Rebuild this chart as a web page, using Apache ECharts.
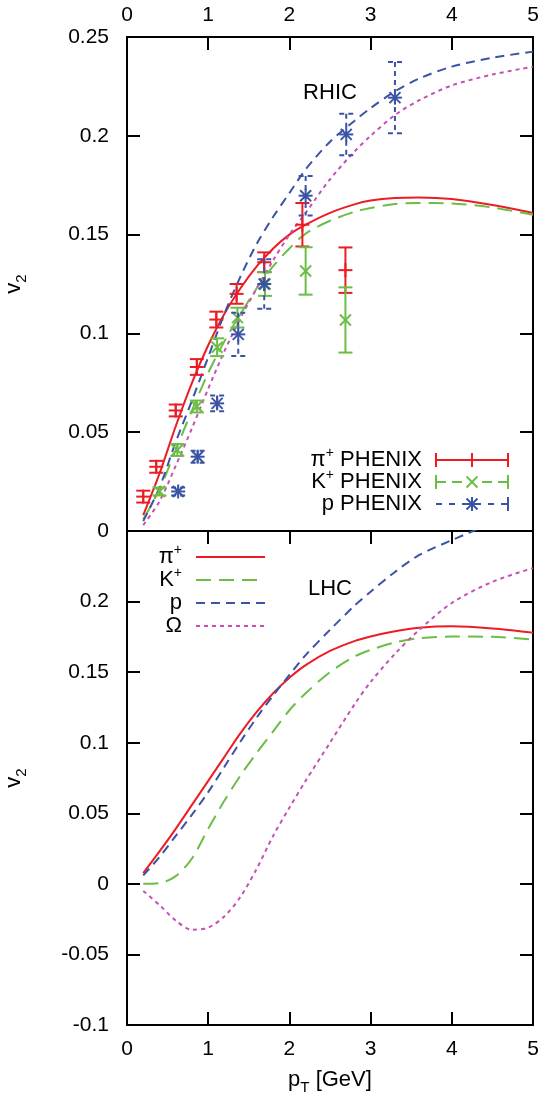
<!DOCTYPE html>
<html>
<head>
<meta charset="utf-8">
<script src="https://cdn.jsdelivr.net/npm/echarts@6/dist/echarts.min.js"></script>
<style>
  html, body { margin: 0; padding: 0; background: #fff; }
  #chart { width: 543px; height: 1097px; }
</style>
</head>
<body>
<div id="chart"></div>
<script>
// Elliptic flow v2 versus transverse momentum: RHIC (top) and LHC (bottom) model curves,
// with PHENIX measurements in the RHIC panel.

const xTickValues = [0, 1, 2, 3, 4, 5];

// common pT grid of the model curves [GeV]
const ptGrid = [0.2, 0.4, 0.6, 0.8, 1.0, 1.2, 1.4, 1.6, 1.8, 2.0, 2.2, 2.5, 2.8, 3.0, 3.3, 3.6, 4.0, 4.5, 5.0];

// RHIC model curves
const rhicPion  = [0.008, 0.029, 0.053, 0.075, 0.094, 0.110, 0.123, 0.134, 0.143, 0.150, 0.155, 0.161, 0.1653, 0.1672, 0.1685, 0.1688, 0.168, 0.165, 0.161];
const rhicKaon  = [0.006, 0.021, 0.041, 0.061, 0.080, 0.096, 0.110, 0.123, 0.134, 0.143, 0.1505, 0.157, 0.1615, 0.1635, 0.1655, 0.166, 0.1658, 0.1637, 0.160];
const rhicProton = [0.005, 0.022, 0.045, 0.066, 0.088, 0.110, 0.129, 0.1455, 0.159, 0.171, 0.183, 0.197, 0.2075, 0.214, 0.2225, 0.229, 0.235, 0.2395, 0.2426];
const rhicOmega = [0.003, 0.015, 0.033, 0.052, 0.072, 0.091, 0.108, 0.123, 0.137, 0.150, 0.161, 0.178, 0.192, 0.200, 0.2105, 0.218, 0.2255, 0.231, 0.235];

// LHC model curves
const lhcPion   = [0.0076, 0.023, 0.039, 0.056, 0.073, 0.090, 0.107, 0.122, 0.135, 0.146, 0.155, 0.165, 0.172, 0.1753, 0.179, 0.1815, 0.1825, 0.181, 0.178];
const lhcKaon   = [0.0, 0.0005, 0.0055, 0.018, 0.039, 0.059, 0.077, 0.093, 0.108, 0.123, 0.135, 0.150, 0.161, 0.1658, 0.171, 0.1741, 0.1752, 0.175, 0.173];
const lhcProton = [0.006, 0.019, 0.034, 0.049, 0.065, 0.083, 0.101, 0.118, 0.1335, 0.148, 0.162, 0.180, 0.197, 0.207, 0.221, 0.233, 0.2435, 0.2555, 0.265];
const lhcOmega  = [-0.005, -0.015, -0.026, -0.0325, -0.031, -0.023, -0.009, 0.011, 0.034, 0.054, 0.073, 0.100, 0.127, 0.143, 0.163, 0.180, 0.199, 0.214, 0.2237];

// PHENIX data: pT, v2, error
const phenixPionPt  = [0.2, 0.36, 0.6, 0.86, 1.1, 1.35, 1.69, 2.16, 2.69];
const phenixPionV2  = [0.0174, 0.0325, 0.061, 0.083, 0.107, 0.120, 0.136, 0.155, 0.132];
const phenixPionErr = [0.003, 0.003, 0.003, 0.004, 0.004, 0.005, 0.005, 0.011, 0.0115];

const phenixKaonPt  = [0.4, 0.62, 0.86, 1.11, 1.36, 1.70, 2.20, 2.69];
const phenixKaonV2  = [0.020, 0.041, 0.063, 0.093, 0.108, 0.125, 0.1316, 0.1068];
const phenixKaonErr = [0.002, 0.003, 0.003, 0.0045, 0.005, 0.006, 0.012, 0.0165];

const phenixProtonPt  = [0.63, 0.87, 1.11, 1.37, 1.69, 2.20, 2.70, 3.30];
const phenixProtonV2  = [0.020, 0.0376, 0.0646, 0.0995, 0.125, 0.1697, 0.2007, 0.2193];
const phenixProtonErr = [0.002, 0.003, 0.004, 0.011, 0.0125, 0.010, 0.0105, 0.018];

const RED = '#ec1c24';
const GREEN = '#6cbd45';
const BLUE = '#3a53a4';
const MAGENTA = '#c650b4';
const FONT = 'Liberation Sans';

const zip = (xs, ys) => xs.map((x, i) => [x, ys[i]]);
const zip3 = (xs, ys, es) => xs.map((x, i) => [x, ys[i], es[i]]);

const fmtTick = v => String(Math.round(v * 100) / 100);

const tickStyle = { inside: true, length: 13, lineStyle: { color: '#000', width: 2 } };
const lineStyleAxis = { show: true, onZero: false, lineStyle: { color: '#000', width: 2 } };
const labelStyle = { color: '#000', fontFamily: FONT, fontSize: 21 };

// small marker glyphs drawn around a centre point
function markerLines(kind, cx, cy, style) {
  const r = 7, d = 5.5;
  const seg = (x1, y1, x2, y2) => ({ type: 'line', shape: { x1, y1, x2, y2 }, style });
  const plus = [seg(cx - r, cy, cx + r, cy), seg(cx, cy - r, cx, cy + r)];
  const cross = [seg(cx - d, cy - d, cx + d, cy + d), seg(cx - d, cy + d, cx + d, cy - d)];
  if (kind === 'plus') return plus;
  if (kind === 'cross') return cross;
  return plus.concat(cross);
}

function errorBarRenderer(kind, color, dashed) {
  return function (params, api) {
    const x = api.value(0), y = api.value(1), e = api.value(2);
    const c = api.coord([x, y]);
    const hi = api.coord([x, y + e]);
    const lo = api.coord([x, y - e]);
    const barStyle = { stroke: color, lineWidth: 2, fill: null, lineDash: dashed ? [5, 4] : null };
    const solid = { stroke: color, lineWidth: 2, fill: null };
    const w = 7;
    const children = [
      { type: 'line', shape: { x1: c[0], y1: hi[1], x2: c[0], y2: lo[1] }, style: barStyle },
      { type: 'line', shape: { x1: c[0] - w, y1: hi[1], x2: c[0] + w, y2: hi[1] }, style: barStyle },
      { type: 'line', shape: { x1: c[0] - w, y1: lo[1], x2: c[0] + w, y2: lo[1] }, style: barStyle }
    ].concat(markerLines(kind, c[0], c[1], solid));
    return { type: 'group', children };
  };
}

function curve(name, xIdx, yIdx, ys, color, dash) {
  return {
    name, type: 'line', xAxisIndex: xIdx, yAxisIndex: yIdx,
    data: zip(ptGrid, ys), showSymbol: false, smooth: 0.3, clip: true,
    lineStyle: { color, width: 2, type: dash || 'solid' }, z: 3
  };
}

function points(name, xs, ys, es, kind, color, dashed) {
  return {
    name, type: 'custom', xAxisIndex: 0, yAxisIndex: 0, clip: true,
    data: zip3(xs, ys, es), encode: { x: 0, y: 1 },
    itemStyle: { color },
    renderItem: errorBarRenderer(kind, color, dashed), z: 5
  };
}

function xAxisDef(grid, position, showLabels, showTicks, margin, extra) {
  return Object.assign({
    type: 'value', gridIndex: grid, position, min: 0, max: 5, interval: 1,
    axisLine: lineStyleAxis,
    axisTick: Object.assign({ show: showTicks }, tickStyle),
    axisLabel: Object.assign({ show: showLabels, margin }, labelStyle),
    splitLine: { show: false }
  }, extra || {});
}

function yAxisDef(grid, position, min, max, showLabels, extra) {
  return Object.assign({
    type: 'value', gridIndex: grid, position, min, max, interval: 0.05,
    axisLine: lineStyleAxis,
    axisTick: Object.assign({ show: true }, tickStyle),
    axisLabel: Object.assign({ show: showLabels, margin: 18, formatter: fmtTick }, labelStyle),
    splitLine: { show: false }
  }, extra || {});
}

const richScripts = {
  sup: { fontFamily: FONT, fontSize: 14, verticalAlign: 'top', lineHeight: 14, color: '#000' },
  sub: { fontFamily: FONT, fontSize: 14, verticalAlign: 'bottom', lineHeight: 14, color: '#000' },
  b: { fontFamily: FONT, fontSize: 22, lineHeight: 28, color: '#000' }
};

const axisNameStyle = {
  color: '#000', fontFamily: FONT, fontSize: 22,
  rich: {
    b: { fontFamily: FONT, fontSize: 22, lineHeight: 26, color: '#000', verticalAlign: 'top' },
    s: { fontFamily: FONT, fontSize: 15, lineHeight: 26, color: '#000', verticalAlign: 'bottom' }
  }
};

// legend drawing helpers (graphic layer)
function legendText(x, y, rich) {
  return {
    type: 'text', x, y,
    style: { text: rich, rich: richScripts, align: 'right', verticalAlign: 'middle', fontFamily: FONT, fontSize: 22, fill: '#000' }
  };
}
function legendLine(x1, x2, y, color, dash) {
  return { type: 'line', shape: { x1, y1: y, x2, y2: y }, style: { stroke: color, lineWidth: 2, lineDash: dash || null } };
}
function legendCap(x, y, color) {
  return { type: 'line', shape: { x1: x, y1: y - 7, x2: x, y2: y + 7 }, style: { stroke: color, lineWidth: 2 } };
}

const topLegendRows = [460, 482, 504];
const botLegendRows = [557, 580, 603, 626];

const graphic = [
  { type: 'text', x: 330, y: 93, style: { text: 'RHIC', align: 'center', verticalAlign: 'middle', fontFamily: FONT, fontSize: 22, fill: '#000' } },
  { type: 'text', x: 330, y: 589, style: { text: 'LHC', align: 'center', verticalAlign: 'middle', fontFamily: FONT, fontSize: 22, fill: '#000' } },

  legendText(422, topLegendRows[0], '{b|π}{sup|+}{b| PHENIX}'),
  legendText(422, topLegendRows[1], '{b|K}{sup|+}{b| PHENIX}'),
  legendText(422, topLegendRows[2], '{b|p PHENIX}'),
  legendLine(436, 508, topLegendRows[0], RED),
  legendCap(436, topLegendRows[0], RED), legendCap(508, topLegendRows[0], RED),
  legendLine(436, 462, topLegendRows[1], GREEN, [10, 6]),
  legendLine(482, 508, topLegendRows[1], GREEN, [10, 6]),
  legendCap(436, topLegendRows[1], GREEN), legendCap(508, topLegendRows[1], GREEN),
  legendLine(436, 508, topLegendRows[2], BLUE, [6, 7]),
  legendCap(508, topLegendRows[2], BLUE),
  { type: 'group', children: markerLines('plus', 472, topLegendRows[0], { stroke: RED, lineWidth: 2 }) },
  { type: 'group', children: markerLines('cross', 472, topLegendRows[1], { stroke: GREEN, lineWidth: 2 }) },
  { type: 'group', children: markerLines('star', 472, topLegendRows[2], { stroke: BLUE, lineWidth: 2 }) },

  legendText(182, botLegendRows[0], '{b|π}{sup|+}'),
  legendText(182, botLegendRows[1], '{b|K}{sup|+}'),
  legendText(182, botLegendRows[2], '{b|p}'),
  legendText(182, botLegendRows[3], '{b|Ω}'),
  legendLine(196, 265, botLegendRows[0], RED),
  legendLine(196, 265, botLegendRows[1], GREEN, [15, 8]),
  legendLine(196, 265, botLegendRows[2], BLUE, [9, 6]),
  legendLine(196, 265, botLegendRows[3], MAGENTA, [4, 4])
];

const option = {
  animation: false,
  backgroundColor: '#fff',
  grid: [
    { left: 127, right: 10, top: 37, height: 494, outerBoundsMode: 'none', containLabel: false },
    { left: 127, right: 10, top: 531, height: 494, outerBoundsMode: 'none', containLabel: false }
  ],
  xAxis: [
    xAxisDef(0, 'top', true, true, 11),
    xAxisDef(0, 'bottom', false, false, 14),
    xAxisDef(1, 'bottom', true, true, 14, {
      name: '{b|p}{s|T}{b| [GeV]}', nameLocation: 'middle', nameGap: 44, nameTextStyle: axisNameStyle
    }),
    xAxisDef(1, 'top', false, true, 14)
  ],
  yAxis: [
    yAxisDef(0, 'left', 0, 0.25, true, {
      name: '{b|v}{s|2}', nameLocation: 'middle', nameRotate: 90, nameGap: 98, nameTextStyle: axisNameStyle
    }),
    yAxisDef(0, 'right', 0, 0.25, false),
    yAxisDef(1, 'left', -0.1, 0.25, true, {
      name: '{b|v}{s|2}', nameLocation: 'middle', nameRotate: 90, nameGap: 98, nameTextStyle: axisNameStyle,
      axisLabel: Object.assign({ show: true, margin: 18, formatter: v => (v > 0.24 ? '' : fmtTick(v)) }, labelStyle)
    }),
    yAxisDef(1, 'right', -0.1, 0.25, false)
  ],
  series: [
    curve('π+ RHIC', 0, 0, rhicPion, RED),
    curve('K+ RHIC', 0, 0, rhicKaon, GREEN, [15, 8]),
    curve('p RHIC', 0, 0, rhicProton, BLUE, [9, 6]),
    curve('Ω RHIC', 0, 0, rhicOmega, MAGENTA, [4, 4]),
    points('π+ PHENIX', phenixPionPt, phenixPionV2, phenixPionErr, 'plus', RED, false),
    points('K+ PHENIX', phenixKaonPt, phenixKaonV2, phenixKaonErr, 'cross', GREEN, false),
    points('p PHENIX', phenixProtonPt, phenixProtonV2, phenixProtonErr, 'star', BLUE, true),
    curve('π+', 2, 2, lhcPion, RED),
    curve('K+', 2, 2, lhcKaon, GREEN, [15, 8]),
    curve('p', 2, 2, lhcProton, BLUE, [9, 6]),
    curve('Ω', 2, 2, lhcOmega, MAGENTA, [4, 4])
  ],
  graphic
};

const chart = echarts.init(document.getElementById('chart'), null, { renderer: 'canvas' });
chart.setOption(option);
</script>
</body>
</html>
